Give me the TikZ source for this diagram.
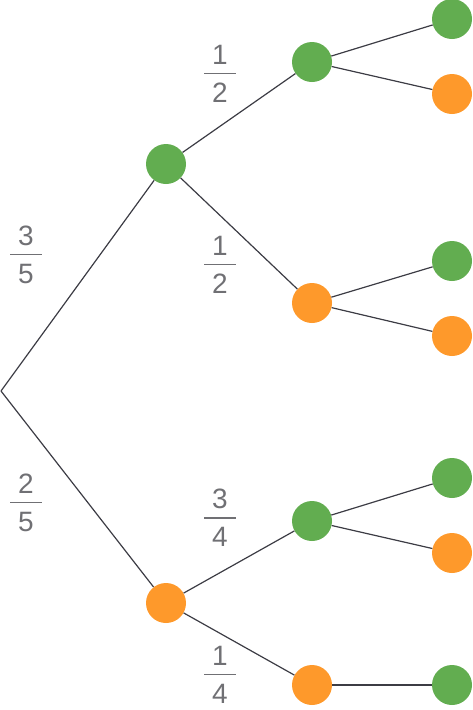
\documentclass[tikz,border=0pt]{standalone}
\usepackage{fontspec}
\setmainfont{Liberation Sans}
\usepackage{tikz}

\definecolor{ballgreen}{RGB}{98,173,80}
\definecolor{ballorange}{RGB}{254,153,43}
\definecolor{edgegray}{RGB}{60,60,68}
\definecolor{fracgray}{RGB}{112,112,116}

\newcommand{\probfrac}[2]{\vbox{\hbox to 32pt{\hss#1\hss}\kern8pt
  \hrule height 1.6pt\kern9pt\hbox to 32pt{\hss#2\hss}}}

\begin{document}
\begin{tikzpicture}[x=1pt,y=-1pt,
  gball/.style={circle,fill=ballgreen,minimum size=40pt,inner sep=0pt},
  oball/.style={circle,fill=ballorange,minimum size=40pt,inner sep=0pt},
  branch/.style={draw=edgegray,line width=1.2pt},
  prob/.style={inner sep=0pt,text=fracgray,font=\fontsize{28}{32}\selectfont}]
\useasboundingbox (0,0) rectangle (473,710);
\coordinate (r) at (1,391);
% first draw
\node[gball] (g) at (166,164) {};
\node[oball] (o) at (166,603) {};
% second draw
\node[gball] (gg) at (312,62) {};
\node[oball] (go) at (312,303) {};
\node[gball] (og) at (312,521) {};
\node[oball] (oo) at (312,685) {};
% third draw
\node[gball] (ggg) at (452,19) {};
\node[oball] (ggo) at (452,94) {};
\node[gball] (gog) at (452,261) {};
\node[oball] (goo) at (452,336) {};
\node[gball] (ogg) at (452,478) {};
\node[oball] (ogo) at (452,553) {};
\node[gball] (oog) at (452,685) {};
\draw[branch] (r) -- (g);
\draw[branch] (r) -- (o);
\draw[branch] (g) -- (gg);
\draw[branch] (g) -- (go);
\draw[branch] (o) -- (og);
\draw[branch] (o) -- (oo);
\draw[branch] (gg) -- (ggg);
\draw[branch] (gg) -- (ggo);
\draw[branch] (go) -- (gog);
\draw[branch] (go) -- (goo);
\draw[branch] (og) -- (ogg);
\draw[branch] (og) -- (ogo);
\draw[branch] (oo) -- (oog);
% probabilities
\node[prob] (p1) at (26,255) {\probfrac{3}{5}};
\node[prob] (p2) at (26,503) {\probfrac{2}{5}};
\node[prob] (p3) at (220,74) {\probfrac{1}{2}};
\node[prob] (p4) at (220,265) {\probfrac{1}{2}};
\node[prob] (p5) at (220,518) {\probfrac{3}{4}};
\node[prob] (p6) at (220,675) {\probfrac{1}{4}};
\end{tikzpicture}
\end{document}
